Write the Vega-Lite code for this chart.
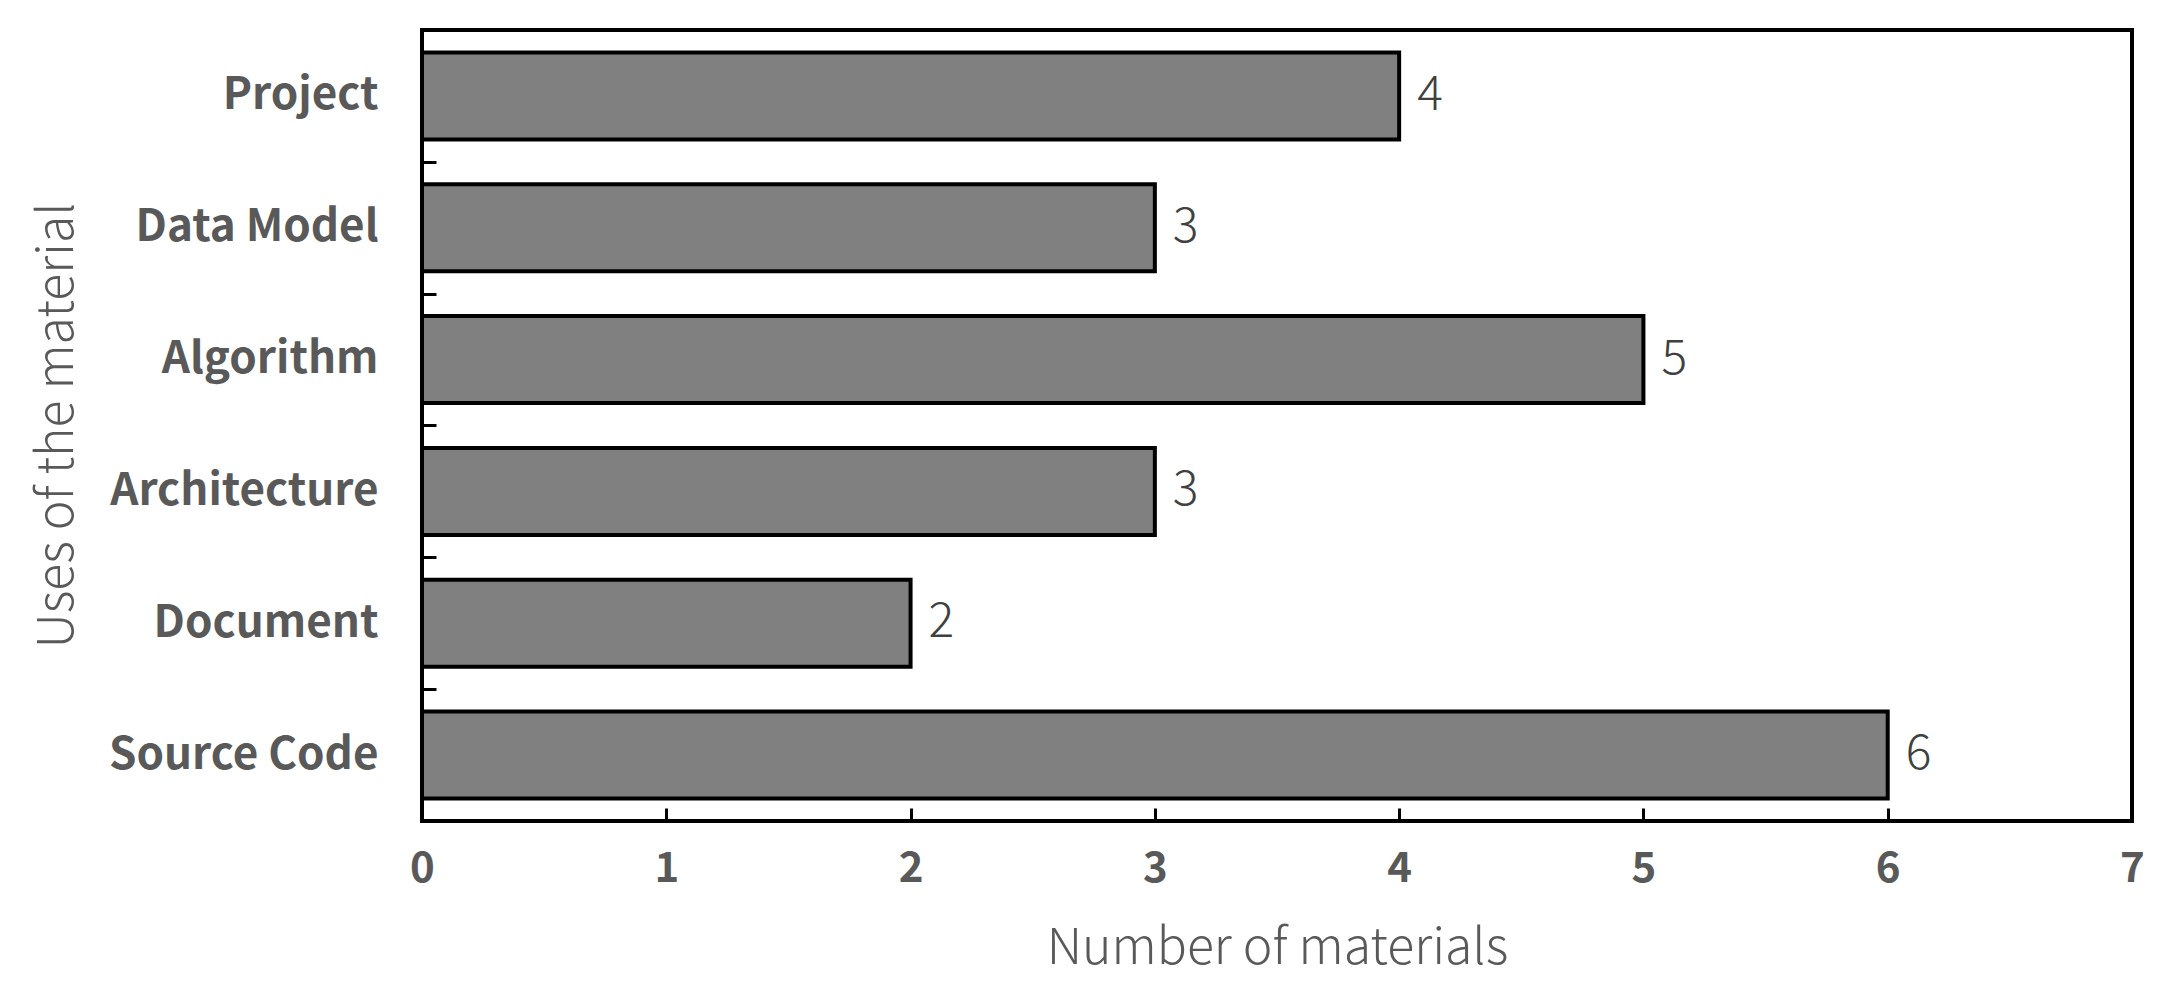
{
  "$schema": "https://vega.github.io/schema/vega-lite/v6.json",
  "width": 1710,
  "height": 791,
  "autosize": {"type": "none"},
  "padding": {"left": 422, "top": 30, "right": 37, "bottom": 167},
  "background": "white",
  "config": {
    "view": {"stroke": "black", "strokeWidth": 4},
    "font": "Noto Sans CJK JP"
  },
  "data": {
    "values": [
      {"use": "Project", "count": 4},
      {"use": "Data Model", "count": 3},
      {"use": "Algorithm", "count": 5},
      {"use": "Architecture", "count": 3},
      {"use": "Document", "count": 2},
      {"use": "Source Code", "count": 6}
    ]
  },
  "encoding": {
    "y": {
      "field": "use",
      "type": "nominal",
      "sort": ["Project", "Data Model", "Algorithm", "Architecture", "Document", "Source Code"],
      "scale": {"paddingInner": 0.34, "paddingOuter": 0.17},
      "axis": {
        "title": "Uses of the material",
        "domain": false,
        "bandPosition": 1,
        "tickOffset": 22.4,
        "labelOffset": -22.4,
        "tickSize": -14,
        "tickWidth": 3,
        "tickColor": "black",
        "labelFontSize": 44,
        "labelFontWeight": "bold",
        "labelColor": "#595959",
        "labelPadding": 58,
        "labelLimit": 0,
        "titleFontSize": 50,
        "titleFontWeight": 300,
        "titleColor": "#595959",
        "titleAngle": -90,
        "titleBaseline": "alphabetic",
        "titleAlign": "center",
        "titleX": -350,
        "titleY": 395
      }
    },
    "x": {
      "field": "count",
      "type": "quantitative",
      "scale": {"domain": [0, 7], "nice": false},
      "axis": {
        "title": "Number of materials",
        "values": [0, 1, 2, 3, 4, 5, 6, 7],
        "grid": false,
        "domain": false,
        "tickSize": -13,
        "tickWidth": 3,
        "tickColor": "black",
        "labelFontSize": 42,
        "labelFontWeight": "bold",
        "labelColor": "#595959",
        "labelPadding": 40,
        "labelFlush": false,
        "titleFontSize": 50,
        "titleFontWeight": 300,
        "titleColor": "#595959",
        "titleBaseline": "alphabetic",
        "titleY": 142
      }
    }
  },
  "layer": [
    {
      "mark": {"type": "bar", "fill": "#808080", "stroke": "black", "strokeWidth": 4}
    },
    {
      "mark": {"type": "text", "align": "left", "baseline": "middle", "dx": 18, "fontSize": 48, "fontWeight": 300, "color": "#404040"},
      "encoding": {"text": {"field": "count", "type": "quantitative"}}
    }
  ]
}
